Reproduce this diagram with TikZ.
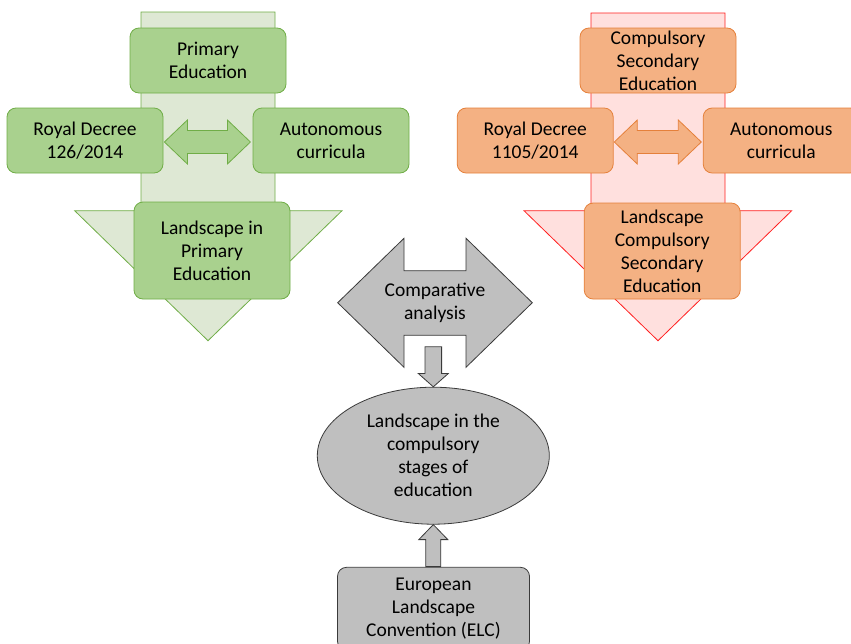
\documentclass[tikz,border=0pt]{standalone}
\usepackage{fontspec}
\setmainfont{Carlito}
\usetikzlibrary{calc,positioning,shapes.geometric}

\definecolor{grnfill}{HTML}{A9D18E}
\definecolor{grnline}{HTML}{70AD47}
\definecolor{grnpale}{HTML}{DEE8D4}
\definecolor{orgfill}{HTML}{F4B183}
\definecolor{orgline}{HTML}{E5803A}
\definecolor{redpale}{HTML}{FFE0DE}
\definecolor{redline}{HTML}{FF2020}
\definecolor{grayfill}{HTML}{BFBFBF}
\definecolor{grayline}{HTML}{3A3A3A}

\tikzset{
  box/.style={rounded corners=9pt, line width=0.8pt, align=center,
    font=\fontsize{19.5}{23}\selectfont, minimum width=156pt,
    minimum height=65pt, inner sep=0pt},
  greenbox/.style={box, fill=grnfill, draw=grnline},
  orangebox/.style={box, fill=orgfill, draw=orgline},
  graybox/.style={box, fill=grayfill, draw=grayline},
  greenarrow/.style={fill=grnfill, draw=grnline, line width=0.8pt},
  orangearrow/.style={fill=orgfill, draw=orgline, line width=0.8pt},
  grayarrow/.style={fill=grayfill, draw=grayline, line width=0.8pt}
}

\begin{document}
\begin{tikzpicture}[x=1pt,y=-1pt]
\useasboundingbox (0,0) rectangle (851,643);

% big background arrows
\filldraw[fill=grnpale, draw=grnline, line width=0.8pt] (141,12) -- (275,12) -- (275,210.7) -- (342,210.7)
  -- (208,340.7) -- (74.7,210.7) -- (141,210.7) -- cycle;
\filldraw[fill=redpale, draw=redline, line width=0.8pt] (591,13) -- (725,13) -- (725,210.7) -- (791.7,210.7)
  -- (658,340.7) -- (524,210.7) -- (591,210.7) -- cycle;

% primary education
\node[greenbox] (pe) at (208,60.5) {Primary\\Education};
\node[greenbox] (rd1) at (85,140.5) {Royal Decree\\126/2014};
\node[greenbox] (ac1) at (331,140.5) {Autonomous\\curricula};
\node[greenbox, minimum height=97pt] (lpe) at (212,250.5) {Landscape in\\Primary\\Education};

% compulsory secondary education
\node[orangebox] (cse) at (658,60.5) {Compulsory\\Secondary\\Education};
\node[orangebox] (rd2) at (535.2,140.5) {Royal Decree\\1105/2014};
\node[orangebox] (ac2) at (781.2,140.5) {Autonomous\\curricula};
\node[orangebox, minimum height=96pt] (lcse) at (662.2,251) {Landscape\\Compulsory\\Secondary\\Education};

% double arrows between decrees and curricula
\draw[greenarrow] ($(rd1.east)+(1,1.5)$) -- ++(23,-22) -- ++(0,10.5) -- ++(40,0) -- ++(0,-10.5)
  -- ++(23,22) -- ++(-23,22) -- ++(0,-10.5) -- ++(-40,0) -- ++(0,10.5) -- cycle;
\draw[orangearrow] ($(rd2.east)+(0.7,1.5)$) -- ++(23,-22) -- ++(0,10.5) -- ++(41,0) -- ++(0,-10.5)
  -- ++(23,22) -- ++(-23,22) -- ++(0,-10.5) -- ++(-41,0) -- ++(0,10.5) -- cycle;

% comparative analysis
\filldraw[grayarrow] (337.7,302.7) -- (404,238.3) -- (404,270.7) -- (466,270.7) -- (466,238.3)
  -- (532.3,302.7) -- (466,367.3) -- (466,335.3) -- (404,335.3) -- (404,367.3) -- cycle;
\node[align=center, font=\fontsize{19.5}{23}\selectfont] (cmp) at (435,302.5) {Comparative\\analysis};

% landscape in compulsory stages
\node[ellipse, fill=grayfill, draw=grayline, line width=0.8pt, align=center,
  minimum width=232pt, minimum height=137pt, inner sep=0pt,
  font=\fontsize{19.5}{23}\selectfont] (lce) at (433.3,455.7)
  {Landscape in the\\compulsory\\stages of\\education};
\node[graybox, minimum width=192pt, minimum height=83pt] (elc) at (433.5,608.8)
  {European\\Landscape\\Convention (ELC)};

% small arrows
\draw[grayarrow] (lce.north) -- ++(-15,-13.3) -- ++(6.7,0) -- ++(0,-26.7) -- ++(16.6,0)
  -- ++(0,26.7) -- ++(6.7,0) -- cycle;
\draw[grayarrow] (lce.south) -- ++(-14.5,15) -- ++(7,0) -- ++(0,27) -- ++(15,0)
  -- ++(0,-27) -- ++(7,0) -- cycle;

\end{tikzpicture}
\end{document}
